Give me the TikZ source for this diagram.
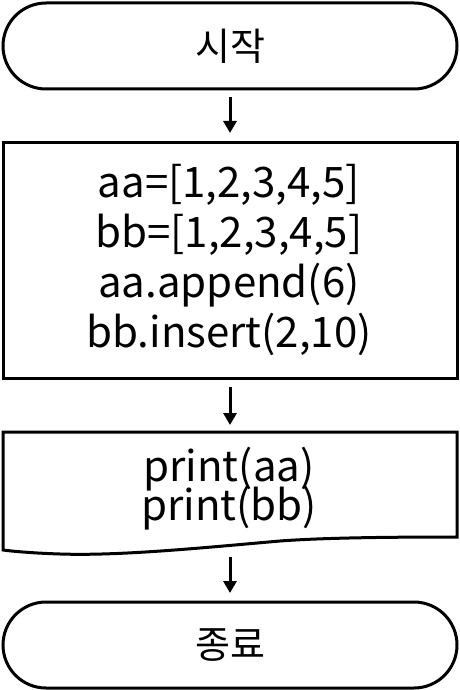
\documentclass[tikz,border=0pt]{standalone}
\usepackage{fontspec}
\setmainfont{Noto Sans CJK KR}
\usetikzlibrary{arrows.meta}
\begin{document}
\begin{tikzpicture}[x=1pt,y=-1pt,
  box/.style={draw=black,line width=3pt,minimum width=454pt,outer sep=0pt,inner sep=0pt},
  term/.style={box,minimum height=86pt,rounded corners=43pt,font=\fontsize{38}{46}\selectfont},
  line/.style={font=\fontsize{42}{50}\selectfont,anchor=base,inner sep=0pt},
  flow/.style={line width=3pt,-{Triangle[width=13pt,length=12pt]}}]
\useasboundingbox (0,0) rectangle (460,690);
\node[term] (start) at (230,46) {시작};
\node[box,minimum height=236pt] (proc) at (230,260) {};
\node[line] (p1) at (229,197) {aa=[1,2,3,4,5]};
\node[line] (p2) at (229,247) {bb=[1,2,3,4,5]};
\node[line] (p3) at (229,297) {aa.append(6)};
\node[line] (p4) at (229,347) {bb.insert(2,10)};
\node[line] (doc1) at (229,481) {print(aa)};
\node[line] (doc2) at (229,520) {print(bb)};
\coordinate (doctop) at (230,432);
\coordinate (docbot) at (230,545);
\draw[line width=3pt,line join=miter] (3,550) -- (3,432) -- (457,432) -- (457,537)
  .. controls (380,537) and (320,538) .. (280,541)
  .. controls (200,548) and (120,556) .. (60,554)
  .. controls (30,553) and (10,551) .. cycle;
\node[term] (end) at (230,645) {종료};
\draw[flow,shorten <=8pt,shorten >=9pt] (start) -- (proc);
\draw[flow,shorten <=9pt,shorten >=7pt] (proc) -- (doctop);
\draw[flow,shorten <=12pt,shorten >=9pt] (docbot) -- (end);
\end{tikzpicture}
\end{document}
